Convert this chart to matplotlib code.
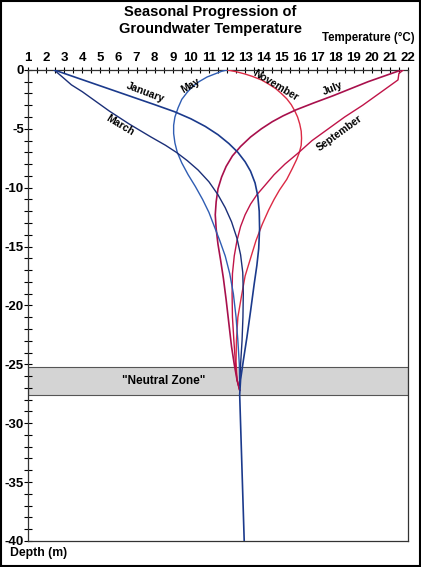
import matplotlib.pyplot as plt
from matplotlib.patches import Rectangle
from matplotlib.ticker import MultipleLocator

plt.rcParams['axes.unicode_minus'] = False
plt.rcParams['font.family'] = ['Liberation Sans', 'DejaVu Sans']

# temperature (C) / depth (m)
jan_t = [2.44, 8.0, 9.1, 10.0, 10.8, 11.5, 12.1, 12.6, 13.0, 13.3, 13.55, 13.7, 13.78, 13.8, 13.75,
         13.65, 13.5, 13.3, 13.1, 12.9, 12.75, 12.7, 12.95]
jan_d = [0, -2.95, -3.55, -4.15, -4.8, -5.5, -6.25, -7.0, -7.8, -8.6, -9.6, -10.7, -12.0, -13.5, -15.2,
         -16.6, -18.2, -20.5, -22.7, -24.7, -26.3, -27.6, -40]

mar_t = [2.44, 2.9, 3.4, 4.0, 4.5, 5.5, 6.6, 7.8, 8.6, 9.2, 9.8, 10.4, 11.0, 11.5, 11.9, 12.25,
         12.55, 12.75, 12.87, 12.9, 12.88, 12.83, 12.75, 12.7]
mar_d = [0, -0.6, -1.27, -1.85, -2.4, -3.5, -4.6, -5.7, -6.4, -7.0, -7.7, -8.5, -9.5, -10.6, -11.7, -12.9,
         -14.3, -15.7, -17.2, -19, -21, -23, -25, -26.8]

may_t = [12.0, 11.7, 11.4, 10.9, 10.45, 10.1, 9.8, 9.5, 9.3, 9.12, 9.05, 9.05, 9.12, 9.25, 9.5, 9.85,
         10.25, 10.65, 11.0, 11.3, 11.6, 11.9, 12.15, 12.35, 12.5, 12.6, 12.68, 12.7]
may_d = [0, -0.12, -0.3, -0.6, -1.0, -1.4, -1.9, -2.5, -3.2, -4.0, -4.7, -5.4, -6.2, -7.0, -7.9, -8.9,
         -9.9, -11.0, -12.1, -13.3, -14.5, -15.8, -17.3, -19, -21, -23, -25, -26.8]

jul_t = [21.65, 19.8, 17.85, 16.8, 15.8, 15.1, 14.5, 13.9, 13.3, 12.75, 12.3, 11.95, 11.7, 11.5, 11.4,
         11.35, 11.4, 11.5, 11.65, 11.8, 11.95, 12.1, 12.25, 12.4, 12.55, 12.7]
jul_d = [0, -1.0, -2.2, -2.8, -3.4, -3.9, -4.4, -5.0, -5.7, -6.5, -7.3, -8.2, -9.1, -10.1, -11.2,
         -12.3, -13.5, -14.8, -16.2, -17.7, -19.5, -21.5, -23.5, -25, -26.3, -27.2]

sep_t = [21.75, 21.5, 21.45, 20.5, 19.5, 18.5, 17.6, 16.7, 15.9, 15.2, 14.6, 14.1, 13.65, 13.3, 13.0,
         12.75, 12.55, 12.4, 12.3, 12.28, 12.3, 12.38, 12.47, 12.55, 12.7]
sep_d = [0, -0.3, -0.85, -1.9, -3.0, -4.0, -5.0, -6.0, -7.1, -8.0, -8.9, -9.8, -10.6, -11.4, -12.3,
         -13.3, -14.5, -15.8, -17.3, -19, -21, -23, -25, -26.3, -27.2]

nov_t = [12.0, 12.5, 13.0, 13.4, 13.9, 14.3, 14.7, 15.0, 15.3, 15.55, 15.75, 15.9, 16.02, 16.1, 16.12,
         16.1, 16.0, 15.85, 15.6, 15.3, 14.9, 14.6, 14.3, 13.95, 13.6, 13.3, 13.0, 12.8, 12.6, 12.52,
         12.5, 12.55, 12.7]
nov_d = [0, -0.15, -0.35, -0.55, -0.85, -1.2, -1.6, -2.0, -2.45, -2.95, -3.5, -4.0, -4.6, -5.2, -5.8,
         -6.4, -7.0, -7.6, -8.4, -9.3, -10.2, -11.0, -11.9, -13.1, -14.5, -16, -17.5, -19.2, -21, -23,
         -24.8, -26.3, -27.2]

zone = [-27.6, -25.2]

fig = plt.figure(figsize=(4.21, 5.67), dpi=100)
ax = fig.add_axes([0.0665, 0.046, 0.9025, 0.8307])

ax.axhspan(zone[0], zone[1], facecolor='#d4d4d4', edgecolor='#555555', lw=0.8, zorder=1)
ax.text(8.5, sum(zone) / 2, '"Neutral Zone"', ha='center', va='center',
        fontsize=8.5, fontweight='bold', zorder=2)

ax.plot(nov_t, nov_d, color='#dc2a44', lw=1.0, zorder=3)
ax.plot(sep_t, sep_d, color='#c01448', lw=1.0, zorder=3)
ax.plot(jul_t, jul_d, color='#a8104c', lw=1.2, zorder=3)
ax.plot(may_t, may_d, color='#2f5db3', lw=1.0, zorder=4)
ax.plot(mar_t, mar_d, color='#1b2f78', lw=1.0, zorder=4)
ax.plot(jan_t, jan_d, color='#1b3a8c', lw=1.2, zorder=4)

lab = dict(fontsize=7.5, fontweight='bold', ha='center', va='center', zorder=5)
ax.text(7.5, -1.95, 'January', rotation=-21, **lab)
ax.text(6.1, -4.7, 'March', rotation=-31, **lab)
ax.text(10.0, -1.3, 'May', rotation=30, **lab)
ax.text(17.85, -1.6, 'July', rotation=22, **lab)
ax.text(18.2, -5.4, 'September', rotation=36, **lab)
ax.text(14.7, -1.3, 'November', rotation=-31, **lab)

ax.set_xlim(1, 22)
ax.set_ylim(-40, 0)
ax.xaxis.tick_top()
ax.xaxis.set_major_locator(MultipleLocator(1))
ax.xaxis.set_minor_locator(MultipleLocator(0.5))
ax.yaxis.set_major_locator(MultipleLocator(5))
ax.yaxis.set_minor_locator(MultipleLocator(1))
ax.tick_params(which='both', direction='inout', length=6, width=0.8, labelsize=9.5)
ax.tick_params(axis='x', which='both', length=5, pad=2)
ax.tick_params(axis='y', pad=0)
for t in ax.get_xticklabels() + ax.get_yticklabels():
    t.set_fontweight('bold')
for s in ax.spines.values():
    s.set_color('#333333')
    s.set_linewidth(0.9)

fig.text(0.5, 0.992, 'Seasonal Progression of\nGroundwater Temperature', ha='center', va='top',
         fontsize=10.5, fontweight='bold', linespacing=1.35)
fig.text(0.985, 0.933, 'Temperature (°C)', ha='right', va='center', fontsize=8.3,
         fontweight='bold')
fig.text(0.024, 0.024, 'Depth (m)', ha='left', va='center', fontsize=8.8,
         fontweight='bold')

fig.patches.append(Rectangle((0.002, 0.002), 0.996, 0.996, transform=fig.transFigure,
                             fill=False, edgecolor='black', lw=1.5))

fig.savefig('out.png', dpi=100)
